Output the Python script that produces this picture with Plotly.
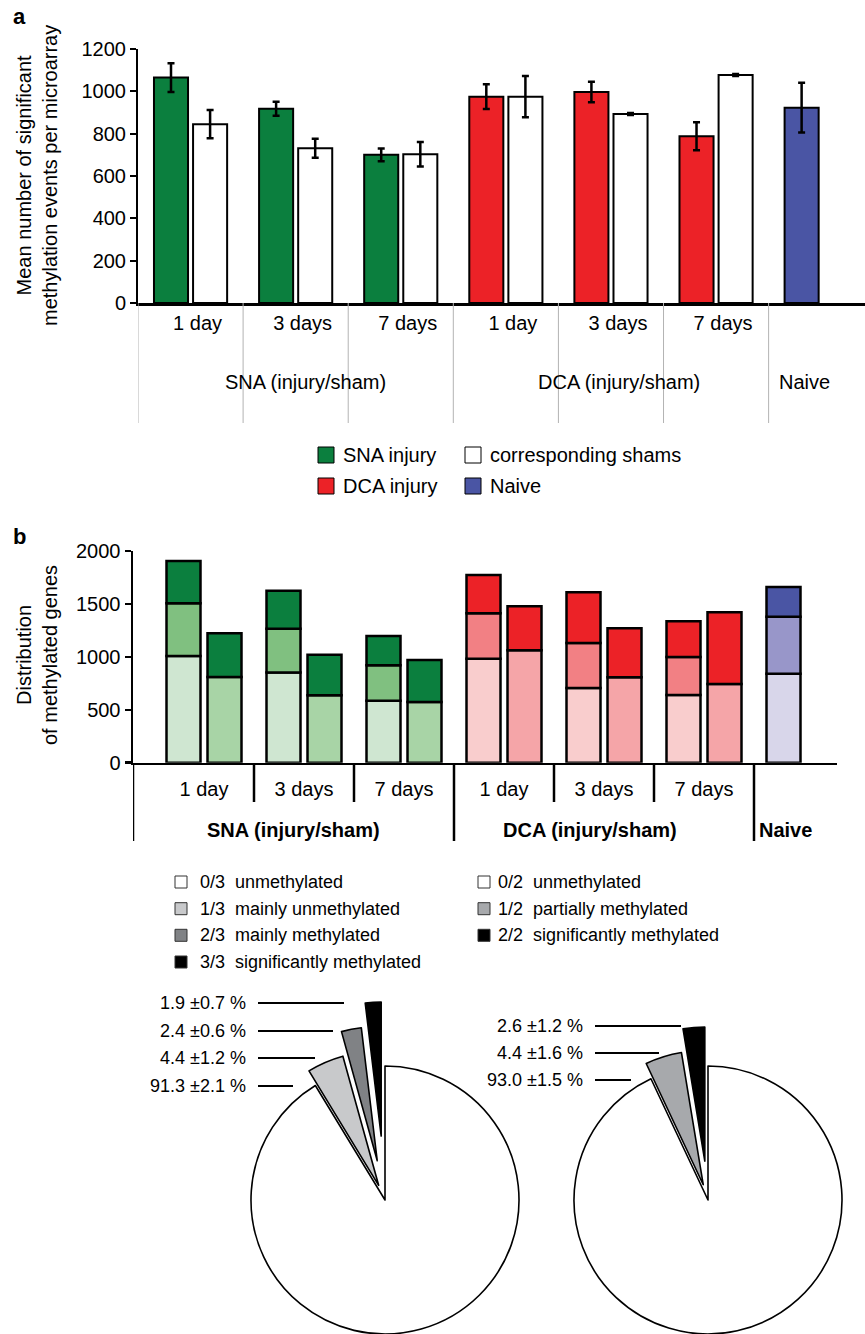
import math
import plotly.graph_objects as go

W, H = 865, 1334
FONT = "Liberation Sans, Arial, Helvetica, sans-serif"

# ---------------- data: panel a ----------------
categories = ["SNA 1 day", "SNA 3 days", "SNA 7 days",
              "DCA 1 day", "DCA 3 days", "DCA 7 days", "Naive"]
time_labels = ["1 day", "3 days", "7 days", "1 day", "3 days", "7 days", ""]
group_labels = ["SNA (injury/sham)", "DCA (injury/sham)", "Naive"]
injury_mean = [1065, 918, 700, 975, 997, 788, 923]
injury_err = [68, 33, 30, 58, 48, 66, 117]
sham_mean = [845, 731, 703, 975, 893, 1077, None]
sham_err = [67, 45, 58, 97, 5, 5, None]

# ---------------- data: panel b ----------------
inj_1of3 = [1008, 851, 586, 983, 706, 640, 841]
inj_2of3 = [498, 415, 334, 429, 425, 359, 539]
inj_3of3 = [400, 359, 277, 362, 479, 337, 280]
sham_1of2 = [810, 637, 574, 1062, 807, 744, None]
sham_2of2 = [413, 384, 396, 416, 463, 677, None]

# ---------------- data: pies ----------------
pie3_codes = ["0/3", "1/3", "2/3", "3/3"]
pie3_names = ["unmethylated", "mainly unmethylated", "mainly methylated", "significantly methylated"]
pie3_mean = [91.3, 4.4, 2.4, 1.9]
pie3_sd = [2.1, 1.2, 0.6, 0.7]
pie2_codes = ["0/2", "1/2", "2/2"]
pie2_names = ["unmethylated", "partially methylated", "significantly methylated"]
pie2_mean = [93.0, 4.4, 2.6]
pie2_sd = [1.5, 1.6, 1.2]

# ---------------- styles ----------------
GREEN, RED, BLUE = "#0b7f3e", "#ec2227", "#4a55a4"
group_of = ["SNA", "SNA", "SNA", "DCA", "DCA", "DCA", "Naive"]
main_col = {"SNA": GREEN, "DCA": RED, "Naive": BLUE}
seg1_col = {"SNA": "#cfe6d1", "DCA": "#f9cdcd", "Naive": "#d8d6ea"}
seg2_col = {"SNA": "#80c080", "DCA": "#f28084", "Naive": "#9896c9"}
shamlow_col = {"SNA": "#a8d4a6", "DCA": "#f5a5a8", "Naive": "#ffffff"}
pie3_colors = ["#ffffff", "#c8c9cb", "#808285", "#000000"]
pie2_colors = ["#ffffff", "#a7a9ac", "#000000"]
pie3_pull_px = [0, 16, 40, 64]
pie2_pull_px = [0, 16, 39]


def px(x):
    return x / W


def py(y):
    return 1 - y / H


fig = go.Figure()

# ---------------- panel a bars ----------------
fig.add_trace(go.Bar(
    x=categories, y=injury_mean, xaxis="x", yaxis="y",
    width=0.324, offset=-0.348,
    marker=dict(color=[main_col[g] for g in group_of], line=dict(color="black", width=2)),
    error_y=dict(type="data", array=injury_err, visible=True, color="black", thickness=2.5, width=3.5),
    showlegend=False, hoverinfo="skip"))
fig.add_trace(go.Bar(
    x=categories, y=sham_mean, xaxis="x", yaxis="y",
    width=0.324, offset=0.024,
    marker=dict(color="white", line=dict(color="black", width=2)),
    error_y=dict(type="data", array=sham_err, visible=True, color="black", thickness=2.5, width=3.5),
    showlegend=False, hoverinfo="skip"))

# ---------------- panel b stacked bars ----------------
base_inj2 = inj_1of3
base_inj3 = [a + b for a, b in zip(inj_1of3, inj_2of3)]
b_specs = [
    (inj_1of3, None, [seg1_col[g] for g in group_of], -0.375),
    (inj_2of3, base_inj2, [seg2_col[g] for g in group_of], -0.375),
    (inj_3of3, base_inj3, [main_col[g] for g in group_of], -0.375),
    (sham_1of2, None, [shamlow_col[g] for g in group_of], 0.035),
    (sham_2of2, sham_1of2, [main_col[g] for g in group_of], 0.035),
]
for vals, base, cols, off in b_specs:
    kw = dict(x=categories, y=vals, xaxis="x2", yaxis="y2", width=0.34, offset=off,
              marker=dict(color=cols, line=dict(color="black", width=2.5)),
              showlegend=False, hoverinfo="skip")
    if base is not None:
        kw["base"] = base
    fig.add_trace(go.Bar(**kw))

# ---------------- pies ----------------
def add_pie(vals, colors, pulls, labels, cx, cy, r):
    total = sum(vals)
    cum = 0.0
    for k, v in enumerate(vals):
        theta = math.radians(360.0 * (cum + v / 2.0) / total)
        cum += v
        d = pulls[k]
        ccx = cx + d * math.sin(theta)
        ccy = cy - d * math.cos(theta)
        cols = [colors[j] if j == k else "rgba(0,0,0,0)" for j in range(len(vals))]
        lw = [1.6 if j == k else 0 for j in range(len(vals))]
        fig.add_trace(go.Pie(
            values=vals, labels=labels, sort=False, direction="clockwise", rotation=0,
            marker=dict(colors=cols, line=dict(color="black", width=lw)),
            textinfo="none", hoverinfo="skip", showlegend=False,
            domain=dict(x=[max(0, px(ccx - r)), min(1, px(ccx + r))],
                        y=[max(0, py(ccy + r)), min(1, py(ccy - r))])))


add_pie(pie3_mean, pie3_colors, pie3_pull_px, pie3_codes, 385, 1200, 134)
add_pie(pie2_mean, pie2_colors, pie2_pull_px, pie2_codes, 708, 1200, 134)

shapes = []
ann = []

# ---------------- panel a separators & labels ----------------
for i in range(7):
    shapes.append(dict(type="line", xref="x", yref="paper", x0=i - 0.5, x1=i - 0.5,
                       y0=py(303), y1=py(423), line=dict(color="#b3b3b3", width=1)))
for lab, xc, xs in zip(group_labels, [1, 4, 6], [10, 8, -17]):
    ann.append(dict(text=lab, xref="x", yref="paper", x=xc, xshift=xs, y=py(382),
                    showarrow=False, xanchor="center", yanchor="middle", font=dict(size=20)))

# panel a legend
leg_a = [("SNA injury", GREEN, 318, 455), ("corresponding shams", "white", 465, 455),
         ("DCA injury", RED, 318, 486), ("Naive", BLUE, 465, 486)]
for txt, col, x0, yc in leg_a:
    shapes.append(dict(type="rect", xref="paper", yref="paper", x0=px(x0), x1=px(x0 + 16),
                       y0=py(yc - 8), y1=py(yc + 8), fillcolor=col, line=dict(color="black", width=1)))
    ann.append(dict(text=txt, xref="paper", yref="paper", x=px(x0 + 23), y=py(yc),
                    showarrow=False, xanchor="left", yanchor="middle", font=dict(size=20)))

# ---------------- panel b separators & labels ----------------
for xb in [0.5, 1.5, 3.5, 4.5]:
    shapes.append(dict(type="line", xref="x2", yref="paper", x0=xb, x1=xb,
                       y0=py(763), y1=py(802), line=dict(color="black", width=2.5)))
for xb in [-0.71, 2.5, 5.5]:
    shapes.append(dict(type="line", xref="x2", yref="paper", x0=xb, x1=xb,
                       y0=py(763), y1=py(841), line=dict(color="black", width=2.5)))
for lab, xc, anc, xs in zip(group_labels, [0.895, 3.86, 5.5], ["center", "center", "left"], [0, 0, 3]):
    ann.append(dict(text="<b>" + lab + "</b>", xref="x2", yref="paper", x=xc, xshift=xs, y=py(830),
                    showarrow=False, xanchor=anc, yanchor="middle", font=dict(size=20)))

# ---------------- panel c legend ----------------
rows_y = [882, 908.7, 935.3, 962]
for codes, names, cols, bx, tx, dx in [(pie3_codes, pie3_names, pie3_colors, 175, 198, 233),
                                        (pie2_codes, pie2_names, pie2_colors, 478, 496, 531)]:
    for k, (c, n, col) in enumerate(zip(codes, names, cols)):
        yc = rows_y[k]
        shapes.append(dict(type="rect", xref="paper", yref="paper", x0=px(bx), x1=px(bx + 12),
                           y0=py(yc - 6), y1=py(yc + 6), fillcolor=col, line=dict(color="#333", width=1)))
        ann.append(dict(text=c, xref="paper", yref="paper", x=px(tx), y=py(yc), showarrow=False,
                        xanchor="left", yanchor="middle", font=dict(size=18)))
        ann.append(dict(text=n, xref="paper", yref="paper", x=px(dx), y=py(yc), showarrow=False,
                        xanchor="left", yanchor="middle", font=dict(size=18)))

# pie labels with leader lines (top row = last slice)
left_rows = [(1003, 344), (1031, 333), (1058, 315), (1086, 293)]
for (yc, xend), m, s in zip(left_rows, pie3_mean[::-1], pie3_sd[::-1]):
    ann.append(dict(text=f"{m:.1f} \u00b1{s:.1f} %", xref="paper", yref="paper", x=px(248), y=py(yc),
                    showarrow=False, xanchor="right", yanchor="middle", font=dict(size=18)))
    shapes.append(dict(type="line", xref="paper", yref="paper", x0=px(258), x1=px(xend),
                       y0=py(yc), y1=py(yc), line=dict(color="black", width=1.8)))
right_rows = [(1026, 681), (1053, 659), (1080, 631)]
for (yc, xend), m, s in zip(right_rows, pie2_mean[::-1], pie2_sd[::-1]):
    ann.append(dict(text=f"{m:.1f} \u00b1{s:.1f} %", xref="paper", yref="paper", x=px(585), y=py(yc),
                    showarrow=False, xanchor="right", yanchor="middle", font=dict(size=18)))
    shapes.append(dict(type="line", xref="paper", yref="paper", x0=px(595), x1=px(xend),
                       y0=py(yc), y1=py(yc), line=dict(color="black", width=1.8)))

# panel letters and y titles
ann.append(dict(text="<b>a</b>", xref="paper", yref="paper", x=px(19), y=py(17), showarrow=False,
                xanchor="center", yanchor="middle", font=dict(size=22)))
ann.append(dict(text="<b>b</b>", xref="paper", yref="paper", x=px(19), y=py(537), showarrow=False,
                xanchor="center", yanchor="middle", font=dict(size=22)))
ann.append(dict(text="Mean number of significant<br>methylation events per microarray",
                xref="paper", yref="paper", x=px(37), y=py(176), textangle=-90, showarrow=False,
                xanchor="center", yanchor="middle", font=dict(size=20)))
ann.append(dict(text="Distribution<br>of methylated genes",
                xref="paper", yref="paper", x=px(37), y=py(655), textangle=-90, showarrow=False,
                xanchor="center", yanchor="middle", font=dict(size=20)))

axis_common = dict(showgrid=False, zeroline=False, showline=True, linecolor="black",
                   tickfont=dict(size=20, color="black"), fixedrange=True, automargin=False)

fig.update_layout(
    width=W, height=H, margin=dict(l=0, r=0, t=0, b=0, autoexpand=False),
    paper_bgcolor="white", plot_bgcolor="rgba(0,0,0,0)",
    font=dict(family=FONT, color="black", size=20),
    barmode="overlay", showlegend=False,
    xaxis=dict(axis_common, domain=[px(138), 1], range=[-0.5, 6.417], type="category",
               categoryorder="array", categoryarray=categories,
               tickvals=categories, ticktext=time_labels, ticks="", linewidth=2.5,
               ticklabelshift=7, ticklabelstandoff=0, anchor="y"),
    yaxis=dict(axis_common, domain=[py(303), py(49)], range=[0, 1200],
               tickvals=[0, 200, 400, 600, 800, 1000, 1200], ticks="outside", ticklen=6,
               tickwidth=2, tickcolor="black", linewidth=2, anchor="x"),
    xaxis2=dict(axis_common, domain=[px(133), px(837)], range=[-0.71, 6.33], type="category",
                categoryorder="array", categoryarray=categories,
                tickvals=categories, ticktext=time_labels, ticks="", linewidth=2.5,
                ticklabelstandoff=7, anchor="y2"),
    yaxis2=dict(axis_common, domain=[py(762.7), py(551)], range=[0, 2000],
                tickvals=[0, 500, 1000, 1500, 2000], ticks="outside", ticklen=6,
                tickwidth=2.5, tickcolor="black", linewidth=2.5, anchor="x2"),
    shapes=shapes, annotations=ann,
)

fig.write_html(
    "out.html",
    config={"displayModeBar": False, "staticPlot": True},
    post_script="document.body.style.margin='0';document.documentElement.style.overflow='hidden';document.body.style.overflow='hidden';",
)
